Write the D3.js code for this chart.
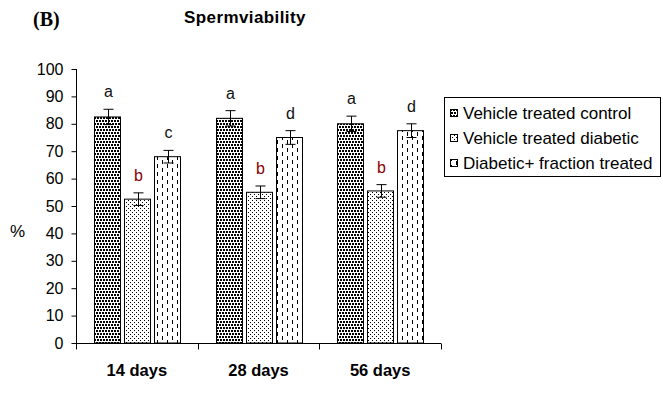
<html>
<head>
<script src="https://d3js.org/d3.v7.min.js"></script>
<style>
    body { margin: 0; background: #fff; }
</style>
</head>
<body>
<svg id="chart" width="663" height="394" font-family="Arial, 'Liberation Sans', sans-serif"></svg>
<script>
const categories = ["14 days", "28 days", "56 days"];
const seriesNames = ["Vehicle treated control", "Vehicle treated diabetic", "Diabetic+ fraction treated"];
const controlVals = [82.5, 82, 80];
const diabeticVals = [52.5, 55, 55.5];
const fractionVals = [68, 75, 77.5];
const controlErr = [2.8, 2.8, 2.8];
const diabeticErr = [2.3, 2.3, 2.3];
const fractionErr = [2.3, 2.5, 2.5];
const controlLetters = ["a", "a", "a"];
const diabeticLetters = ["b", "b", "b"];
const fractionLetters = ["c", "d", "d"];
const yTicks = [0, 10, 20, 30, 40, 50, 60, 70, 80, 90, 100];

const series = [
    {name: seriesNames[0], vals: controlVals, err: controlErr, letters: controlLetters, pat: "url(#pControl)", lcol: "#111"},
    {name: seriesNames[1], vals: diabeticVals, err: diabeticErr, letters: diabeticLetters, pat: "url(#pDiab)", lcol: "#8b0000"},
    {name: seriesNames[2], vals: fractionVals, err: fractionErr, letters: fractionLetters, pat: "url(#pFrac)", lcol: "#111"}
];

const svg = d3.select("#chart");
const defs = svg.append("defs");

// dense staggered squares
const p1 = defs.append("pattern").attr("id", "pControl").attr("patternUnits", "userSpaceOnUse")
    .attr("width", 6).attr("height", 6);
p1.append("rect").attr("width", 6).attr("height", 6).attr("fill", "#fff");
p1.append("rect").attr("x", 0).attr("y", 0).attr("width", 2).attr("height", 2).attr("fill", "#000");
p1.append("rect").attr("x", 3).attr("y", 0).attr("width", 2).attr("height", 2).attr("fill", "#000");
p1.append("rect").attr("x", 1).attr("y", 3).attr("width", 2).attr("height", 2).attr("fill", "#000");
p1.append("rect").attr("x", 4).attr("y", 3).attr("width", 2).attr("height", 2).attr("fill", "#000");

// sparse dots
const p2 = defs.append("pattern").attr("id", "pDiab").attr("patternUnits", "userSpaceOnUse")
    .attr("width", 4).attr("height", 4);
p2.append("rect").attr("width", 4).attr("height", 4).attr("fill", "#fff");
p2.append("rect").attr("x", 0).attr("y", 0).attr("width", 1).attr("height", 1).attr("fill", "#000");
p2.append("rect").attr("x", 2).attr("y", 2).attr("width", 1).attr("height", 1).attr("fill", "#000");

// vertical dashes
const p3 = defs.append("pattern").attr("id", "pFrac").attr("patternUnits", "userSpaceOnUse")
    .attr("width", 10).attr("height", 8);
p3.append("rect").attr("width", 10).attr("height", 8).attr("fill", "#fff");
p3.append("rect").attr("x", 2).attr("y", 0).attr("width", 1).attr("height", 4).attr("fill", "#000");
p3.append("rect").attr("x", 7).attr("y", 4).attr("width", 1).attr("height", 4).attr("fill", "#000");

const y = d3.scaleLinear().domain([0, 100]).range([343, 69]);
const x = d3.scaleBand().domain(categories).range([76, 441]).padding(0);
const xs = d3.scaleBand().domain(d3.range(3)).range([18, 104]).paddingInner(0.14);

// bars
series.forEach((s, si) => {
    const g = svg.append("g");
    categories.forEach((c, ci) => {
        const bx = Math.round(x(c) + xs(si)) + 0.5;
        const bw = Math.round(xs.bandwidth());
        const v = s.vals[ci];
        g.append("rect").attr("x", bx).attr("y", y(v)).attr("width", bw)
            .attr("height", y(0) - y(v)).attr("fill", s.pat)
            .attr("stroke", "#000").attr("stroke-width", 1);
        const cx = Math.round(bx + bw / 2) + 0.5;
        g.append("line").attr("x1", cx).attr("x2", cx)
            .attr("y1", y(v + s.err[ci])).attr("y2", y(v - s.err[ci]))
            .attr("stroke", "#000").attr("stroke-width", 1);
        g.append("line").attr("x1", cx - 5).attr("x2", cx + 5)
            .attr("y1", y(v + s.err[ci])).attr("y2", y(v + s.err[ci]))
            .attr("stroke", "#000").attr("stroke-width", 1);
        g.append("line").attr("x1", cx - 5).attr("x2", cx + 5)
            .attr("y1", y(v - s.err[ci])).attr("y2", y(v - s.err[ci]))
            .attr("stroke", "#000").attr("stroke-width", 1);
        g.append("text").attr("x", cx).attr("y", y(v + s.err[ci]) - 12)
            .attr("text-anchor", "middle").attr("font-size", 16)
            .attr("fill", s.lcol).text(s.letters[ci]);
    });
});

// y axis
const yAxis = svg.append("g").attr("transform", "translate(76.5,0)")
    .call(d3.axisLeft(y).tickValues(yTicks).tickSize(5).tickPadding(8));
yAxis.attr("font-family", null).attr("font-size", 16);
yAxis.select(".domain").attr("stroke", "#000").attr("d", "M0,69V343");
yAxis.selectAll("text").attr("fill", "#000");

// x axis
const xAxis = svg.append("g").attr("transform", "translate(0,343.5)");
xAxis.append("line").attr("x1", 76).attr("x2", 441).attr("y1", 0).attr("y2", 0).attr("stroke", "#000");
[76].concat(categories.map(c => x(c) + x.bandwidth())).forEach(t => {
    xAxis.append("line").attr("x1", Math.round(t) + 0.5).attr("x2", Math.round(t) + 0.5)
        .attr("y1", 0).attr("y2", 6).attr("stroke", "#000");
});
categories.forEach(c => {
    xAxis.append("text").attr("x", x(c) + x.bandwidth() / 2).attr("y", 32)
        .attr("text-anchor", "middle").attr("font-size", 16.5).attr("font-weight", "bold").text(c);
});

// labels
svg.append("text").attr("x", 33).attr("y", 26).style("font-family", "'Times New Roman', 'Liberation Serif', serif")
    .attr("font-weight", "bold").attr("font-size", 20).text("(B)");
svg.append("text").attr("x", 184).attr("y", 23).attr("font-weight", "bold").attr("font-size", 17)
    .attr("letter-spacing", 0.4).text("Spermviability");
svg.append("text").attr("x", 10).attr("y", 237).attr("font-size", 17).text("%");

// legend
const lg = svg.append("g").attr("transform", "translate(444,97)");
lg.append("rect").attr("x", 0.5).attr("y", 0.5).attr("width", 216).attr("height", 79)
    .attr("fill", "#fff").attr("stroke", "#000");
series.forEach((s, i) => {
    lg.append("rect").attr("x", 6.5).attr("y", 12.5 + i * 25).attr("width", 7).attr("height", 7)
        .attr("fill", s.pat).attr("stroke", "#000");
    lg.append("text").attr("x", 19).attr("y", 21.5 + i * 25).attr("font-size", 17).text(s.name);
});
</script>
</body>
</html>
